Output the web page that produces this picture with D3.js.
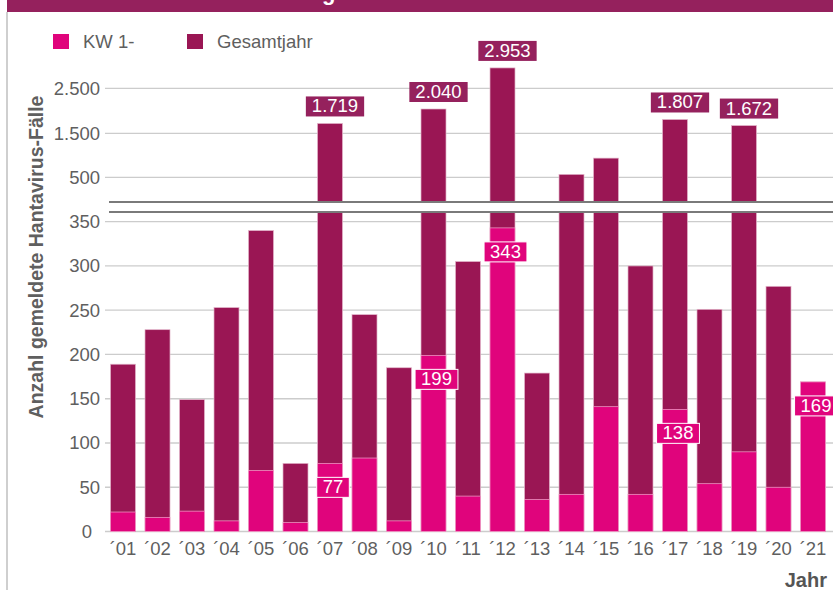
<!DOCTYPE html>
<html><head><meta charset="utf-8">
<script src="https://cdn.jsdelivr.net/npm/d3@7"></script>
<style>
html,body{margin:0;padding:0;background:#fff;}
svg{display:block;font-family:"Liberation Sans",Arial,sans-serif;}
</style></head>
<body>
<svg id="chart" width="833" height="590"></svg>
<script>
const years = ['01','02','03','04','05','06','07','08','09','10','11','12','13','14','15','16','17','18','19','20','21'];
const kwValues = [22,16,23,12,69,10,77,83,12,199,40,343,36,42,141,42,138,54,90,50,169];
const totalValues = [189,228,149,253,340,77,1719,245,185,2040,305,2953,179,567,936,300,1807,251,1672,277,169];
const totalLabelYears = ['07','10','12','17','19'];
const kwLabelYears = ['07','10','12','17','21'];
const yTickValues = [0,50,100,150,200,250,300,350,500,1500,2500];
const seriesNames = ['KW 1-','Gesamtjahr'];
const titleText = 'Hantavirus-Meldungen in Deutschland';
const yTitle = 'Anzahl gemeldete Hantavirus-Fälle';
const xTitle = 'Jahr';

const colPink = '#e0047c', colDark = '#9a1654', colHead = '#95215d';
const textCol = '#5f5f5f';

const svg = d3.select('#chart');
const de = d3.formatLocale({decimal:',', thousands:'.', grouping:[3], currency:['','€']});
const fmt = de.format(',d');

const data = years.map((y,i)=>({year:y, kw:kwValues[i], total:totalValues[i]}));

// broken (piecewise) y scale
const y = d3.scaleLinear()
  .domain([0,350,500,1500,2500,3500])
  .range([531.5,221.7,177.3,133.3,88.3,43.3]);
const x = d3.scaleBand().domain(years).range([105.75,830.25]).paddingInner(0.275).paddingOuter(0.1375);

// title bar
svg.append('rect').attr('x',7).attr('y',0).attr('width',826).attr('height',12).attr('fill',colHead);
const tt = svg.append('text').attr('x',0).attr('y',0).attr('fill','#fff')
  .attr('font-weight','bold').attr('font-size',22).text(titleText);
// left border
svg.append('line').attr('x1',7).attr('x2',7).attr('y1',12).attr('y2',590).attr('stroke','#cfcfcf').attr('stroke-width',2);

// legend
const leg = [{n:seriesNames[0],c:colPink,x:53},{n:seriesNames[1],c:colDark,x:187}];
leg.forEach(l=>{
  svg.append('rect').attr('x',l.x).attr('y',34).attr('width',16).attr('height',15).attr('fill',l.c);
  svg.append('text').attr('x',l.x+30).attr('y',48).attr('font-size',18.5).attr('fill',textCol).text(l.n);
});

// gridlines
svg.append('g').selectAll('line').data(yTickValues).join('line')
  .attr('x1',105).attr('x2',833).attr('y1',d=>y(d)).attr('y2',d=>y(d))
  .attr('stroke','#cccccc').attr('stroke-width',1.3);

// y axis
const yAxis = svg.append('g').attr('transform','translate(105,0)')
  .call(d3.axisLeft(y).tickValues(yTickValues).tickSize(0).tickPadding(5).tickFormat(d=>fmt(d)));
yAxis.select('.domain').remove();
yAxis.selectAll('text').attr('font-size',18.5).attr('fill',textCol).attr('font-family','"Liberation Sans",Arial,sans-serif')
  .attr('dx',d=>d===0?-8:0);

// x axis
const xAxis = svg.append('g').attr('transform','translate(0,531.5)')
  .call(d3.axisBottom(x).tickSize(0).tickPadding(10).tickFormat(d=>'´'+d));
xAxis.select('.domain').remove();
xAxis.selectAll('text').attr('font-size',18.5).attr('fill',textCol).attr('font-family','"Liberation Sans",Arial,sans-serif');

// bars
const bars = svg.append('g');
bars.selectAll('rect.tot').data(data).join('rect').attr('class','tot')
  .attr('x',d=>x(d.year)).attr('width',x.bandwidth())
  .attr('y',d=>y(d.total)).attr('height',d=>y(0)-y(d.total))
  .attr('fill',colDark).attr('stroke','#e3b6cb').attr('stroke-width',0.7);
bars.selectAll('rect.kw').data(data).join('rect').attr('class','kw')
  .attr('x',d=>x(d.year)).attr('width',x.bandwidth())
  .attr('y',d=>y(d.kw)).attr('height',d=>y(0)-y(d.kw))
  .attr('fill',colPink).attr('stroke','#f2a6cc').attr('stroke-width',0.7);

// axis break
svg.append('rect').attr('x',109).attr('y',202).attr('width',724).attr('height',10).attr('fill','#fff');
[202,212].forEach(v=>svg.append('line').attr('x1',109).attr('x2',833).attr('y1',v).attr('y2',v)
  .attr('stroke','#7a7a7a').attr('stroke-width',1.8));

// value labels
function box(g, cx, top, txt, fill, stroke){
  const t = g.append('text').attr('x',cx).attr('y',top+16).attr('text-anchor','middle')
    .attr('font-size',18.5).attr('fill','#fff').text(txt);
  const w = t.node().getComputedTextLength()+12;
  g.insert('rect','text').attr('x',cx-w/2).attr('y',top).attr('width',w).attr('height',20)
    .attr('fill',fill).attr('stroke',stroke||'none').attr('stroke-width',1);
}
data.forEach(d=>{
  const cx = x(d.year)+x.bandwidth()/2;
  if(totalLabelYears.includes(d.year)){
    box(svg.append('g'), cx+5, y(d.total)-27, fmt(d.total), colHead);
  }
  if(kwLabelYears.includes(d.year)){
    box(svg.append('g'), cx+3, y(d.kw)+14, fmt(d.kw), colPink, '#fff');
  }
});

// axis titles
svg.append('text').attr('transform','translate(43,257) rotate(-90)').attr('text-anchor','middle')
  .attr('font-size',19.5).attr('font-weight','bold').attr('fill',textCol).text(yTitle);
svg.append('text').attr('x',827).attr('y',587).attr('text-anchor','end')
  .attr('font-size',20).attr('font-weight','bold').attr('fill','#555').text(xTitle);

// position title so its 'g' descender shows where the reference has it
const gi = titleText.indexOf('g');
const gx = tt.node().getStartPositionOfChar(gi).x;
tt.attr('x', 322-gx);
</script>
</body></html>
